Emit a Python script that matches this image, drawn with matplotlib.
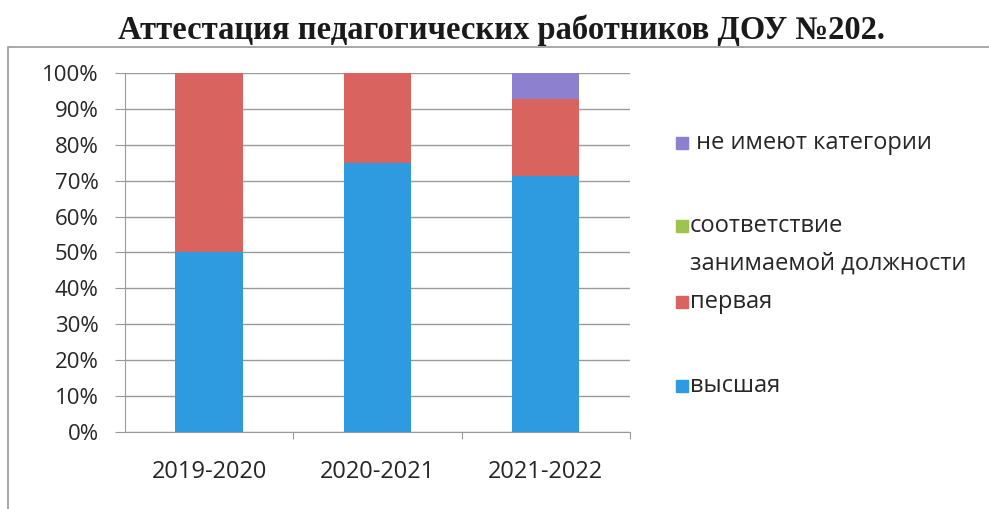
import matplotlib
matplotlib.use("Agg")
import matplotlib.pyplot as plt
from matplotlib.patches import Rectangle
import numpy as np

# data (shares, %)
years = ["2019-2020", "2020-2021", "2021-2022"]
vysshaya = [50.0, 75.0, 71.4]
pervaya = [50.0, 25.0, 21.4]
sootv = [0.0, 0.0, 0.0]
net_kat = [0.0, 0.0, 7.2]
series_names = ["высшая", "первая", "соответствие\nзанимаемой должности", " не имеют категории"]
colors = ["#2E9BE0", "#D9635F", "#9BC451", "#8C80CF"]

plt.rcParams["font.family"] = ["Open Sans", "DejaVu Sans"]
TXT = "#262626"

fig = plt.figure(figsize=(9.89, 5.09), dpi=100)
fig.patches.append(Rectangle((8/989, -0.1), 1.2, 1 - 47/509 + 0.1, transform=fig.transFigure,
                             fill=False, edgecolor="#9a9a9a", lw=1.2))
ax = fig.add_axes([125/989, 1 - 432/509, 505/989, 359/509])

x = np.arange(len(years))
bottom = np.zeros(len(years))
for vals, c in zip([vysshaya, pervaya, sootv, net_kat], colors):
    ax.bar(x, vals, 0.4, bottom=bottom, color=c, zorder=3)
    bottom += np.array(vals)

ax.set_xlim(-0.5, 2.5)
ax.set_ylim(0, 100)
ax.set_yticks(np.arange(0, 101, 10))
ax.set_yticklabels([f"{v}%" for v in range(0, 101, 10)], fontsize=16, color=TXT)
ax.yaxis.grid(True, color="#9a9a9a", lw=1.0, zorder=0)
ax.set_xticks([0.5, 1.5, 2.5])
ax.set_xticklabels([])
ax.set_xticks(x, minor=True)
ax.set_xticklabels(years, minor=True, fontsize=17, color=TXT)
ax.tick_params(axis="x", which="minor", length=0, pad=20)
ax.tick_params(axis="x", which="major", length=5, color="#9a9a9a")
ax.tick_params(axis="y", length=7, color="#9a9a9a", pad=12)
for s in ["top", "right"]:
    ax.spines[s].set_visible(False)
ax.spines["left"].set_color("#9a9a9a")
ax.spines["bottom"].set_color("#9a9a9a")

# legend, drawn by hand: top entry is the last series
leg_y = [386, 302, 226, 143]
for name, c, yy in zip(series_names, colors, leg_y):
    fig.patches.append(Rectangle((676/989, 1 - (yy + 6) / 509), 12/989, 12/509,
                                 transform=fig.transFigure, color=c))
    fig.text(690/989, 1 - yy/509, name.split("\n")[0], fontsize=17, color=TXT, va="center")
    if "\n" in name:
        fig.text(690/989, 1 - (yy + 38)/509, name.split("\n")[1], fontsize=17, color=TXT, va="center")

fig.text(0.507, 1 - 30/509, "Аттестация педагогических работников ДОУ №202.",
         family=["Liberation Serif", "DejaVu Serif"], weight="bold", fontsize=23.5,
         ha="center", va="center", color="#1a1a1a")

fig.savefig("out.png", dpi=100)
